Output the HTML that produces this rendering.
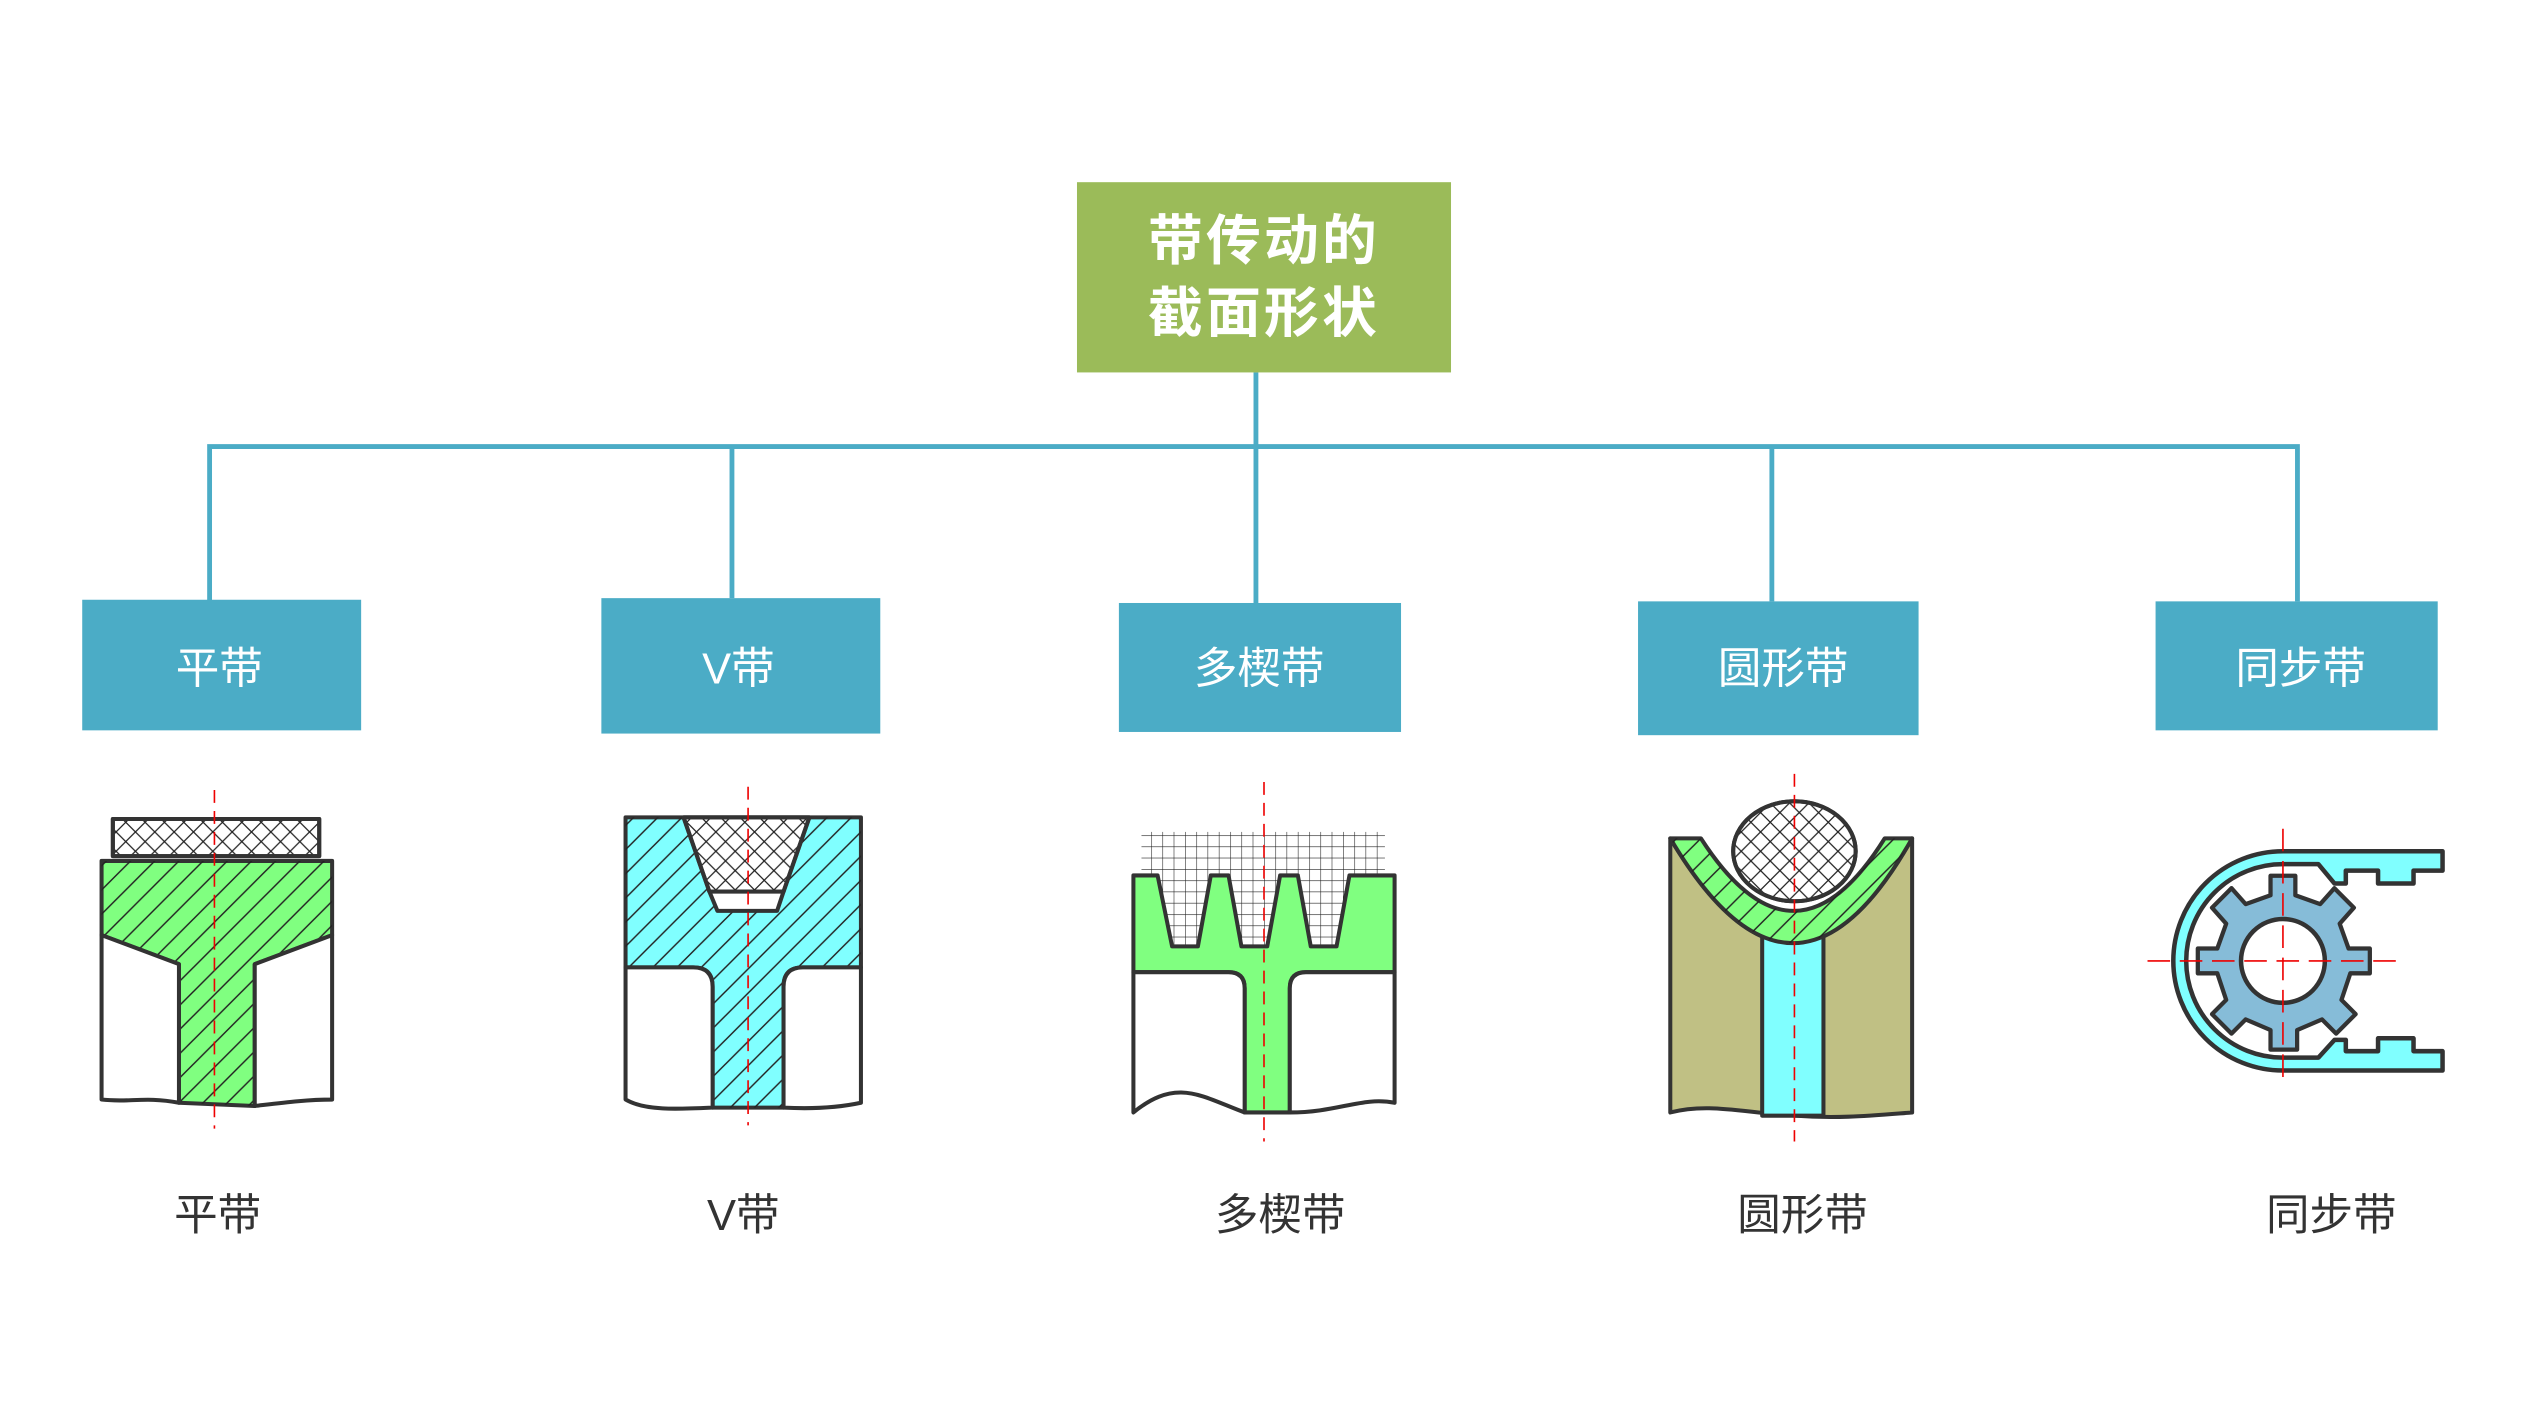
<!DOCTYPE html>
<html><head><meta charset="utf-8"><style>
html,body{margin:0;padding:0;background:#fff;}
svg{display:block;}
text{font-family:"Liberation Sans","Noto Sans CJK SC",sans-serif;}
</style></head><body>
<svg width="2528" height="1422" viewBox="0 0 1568 882" preserveAspectRatio="none" xmlns="http://www.w3.org/2000/svg">
<defs>
<pattern id="diag" width="15" height="15" patternUnits="userSpaceOnUse"><path d="M-3,18 L18,-3 M-3,3 L3,-3 M12,18 L18,12" stroke="#222" stroke-width="0.9"/></pattern>
<pattern id="cross" width="12" height="12" patternUnits="userSpaceOnUse"><path d="M0,0 L12,12 M12,0 L0,12" stroke="#222" stroke-width="0.8"/></pattern>
<pattern id="grid" width="7" height="7" patternUnits="userSpaceOnUse"><path d="M0,0 H7 M0,0 V7" stroke="#222" stroke-width="0.7" fill="none"/></pattern>
</defs>
<g stroke="#4bacc6" stroke-width="3" fill="none">
<path d="M779,231 V374"/>
<path d="M130,373 V277 H1425 V373"/>
<path d="M454,277 V371"/>
<path d="M1099,277 V373"/>
</g>
<rect x="668" y="113" width="232" height="118" fill="#9bbb59"/>
<text x="784" y="161" font-size="34" font-weight="bold" fill="#fff" text-anchor="middle" letter-spacing="2">带传动的</text>
<text x="784" y="206" font-size="34" font-weight="bold" fill="#fff" text-anchor="middle" letter-spacing="2">截面形状</text>
<g fill="#4bacc6">
<rect x="51" y="372" width="173" height="81"/>
<rect x="373" y="371" width="173" height="84"/>
<rect x="694" y="374" width="175" height="80"/>
<rect x="1016" y="373" width="174" height="83"/>
<rect x="1337" y="373" width="175" height="80"/>
</g>
<g font-size="27" fill="#fff" text-anchor="middle">
<text x="136" y="424">平带</text>
<text x="458" y="424">V带</text>
<text x="781" y="424">多楔带</text>
<text x="1106" y="424">圆形带</text>
<text x="1427" y="424">同步带</text>
</g>
<g font-size="27" fill="#333" text-anchor="middle">
<text x="135" y="763">平带</text>
<text x="461" y="763">V带</text>
<text x="794" y="763">多楔带</text>
<text x="1118" y="763">圆形带</text>
<text x="1446" y="763">同步带</text>
</g>

<g stroke="#333" stroke-width="2.5" stroke-linejoin="round">
<rect x="70" y="508" width="128" height="23" fill="#fff"/>
<rect x="70" y="508" width="128" height="23" fill="url(#cross)"/>
<path d="M63,534 H206 V580 L158,598 V686 L111,684 V598 L63,580 Z" fill="#80ff80"/>
<path d="M63,534 H206 V580 L158,598 V686 L111,684 V598 L63,580 Z" fill="url(#diag)" stroke="none"/>
<path d="M63,580 L111,598 V684 C90,680 80,684 63,682 Z" fill="#fff"/>
<path d="M206,580 L158,598 V686 C175,684 190,682 206,682 Z" fill="#fff"/>
</g>
<path d="M133,490 V700" stroke="#e00" stroke-width="1" stroke-dasharray="8,5"/>

<g stroke="#333" stroke-width="2.5" stroke-linejoin="round">
<path d="M388,507 H534 V600 H498 Q486,600 486,612 V687 H442 V612 Q442,600 430,600 H388 Z" fill="#80ffff"/>
<path d="M388,507 H534 V600 H498 Q486,600 486,612 V687 H442 V612 Q442,600 430,600 H388 Z" fill="url(#diag)" stroke="none"/>
<path d="M388,600 H430 Q442,600 442,612 V687 C420,688 400,689 388,682 Z" fill="#fff"/>
<path d="M534,600 H498 Q486,600 486,612 V687 C505,688 520,687 534,684 Z" fill="#fff"/>
<path d="M424,507 H502 L486,553 H440 Z" fill="#fff"/>
<path d="M424,507 H502 L486,553 H440 Z" fill="url(#cross)"/>
<path d="M440,553 H486 L482,565 H445 Z" fill="#fff"/>
</g>
<path d="M464,488 V698" stroke="#e00" stroke-width="1" stroke-dasharray="8,5"/>

<rect x="708" y="516" width="151" height="72" fill="url(#grid)"/>
<g stroke="#333" stroke-width="2.5" stroke-linejoin="round">
<path d="M703,543 H718 L727,587 H743 L751,543 H762 L770,587 H786 L794,543 H805 L813,587 H829 L837,543 H865 V603 H810 Q800,603 800,613 V690 H772 V613 Q772,603 762,603 H703 Z" fill="#80ff80"/>
<path d="M703,603 H762 Q772,603 772,613 V690 C745,680 730,668 703,690 Z" fill="#fff"/>
<path d="M865,603 H810 Q800,603 800,613 V690 C830,690 845,680 865,684 Z" fill="#fff"/>
</g>
<path d="M784,485 V708" stroke="#e00" stroke-width="1" stroke-dasharray="8,5"/>

<g stroke="#333" stroke-width="2.5" stroke-linejoin="round">
<path d="M1036,520 Q1113,650 1186,520 V690 C1160,692 1140,694 1113,692 C1080,690 1060,684 1036,690 Z" fill="#c0c084"/>
<rect x="1093" y="578" width="38" height="114" fill="#80ffff"/>
<path d="M1036,520 H1055 Q1113,610 1169,520 H1186 Q1113,650 1036,520 Z" fill="#80ff80"/>
<path d="M1036,520 H1055 Q1113,610 1169,520 H1186 Q1113,650 1036,520 Z" fill="url(#diag)" stroke="none"/>
<ellipse cx="1113" cy="528" rx="38" ry="31" fill="#fff"/>
<ellipse cx="1113" cy="528" rx="38" ry="31" fill="url(#cross)"/>
</g>
<path d="M1113,480 V708" stroke="#e00" stroke-width="1" stroke-dasharray="8,5"/>

<g transform="translate(7,2)">
<g stroke="#333" stroke-width="2.8" stroke-linejoin="round">
<path d="M1409,526 H1508 V538 H1490 V546 H1468 V538 H1448 V546 H1441 L1431,534 H1409 A58,58 0 0 0 1409,654 H1431 L1441,643 H1448 V650 H1468 V642 H1490 V650 H1508 V662 H1409 A68,68 0 0 1 1409,526 Z" fill="#80ffff"/>
<g transform="translate(1409,594) scale(1.1) translate(-1409,-594)">
<path d="M1402,536 H1416 V547 L1430,552 L1438,543 L1449,554 L1441,563 L1446,577 H1458 V591 H1447 L1442,606 L1450,614 L1439,625 L1431,617 L1417,623 V634 H1402 V623 L1388,617 L1380,625 L1369,614 L1377,606 L1372,591 H1361 V577 H1372 L1377,563 L1369,554 L1380,543 L1388,552 L1402,547 Z" transform="translate(0,10)" fill="#86bcd8" stroke-width="2.4"/>
</g>
<circle cx="1409" cy="594" r="26" fill="#fff"/>
</g>
<g stroke="#e00" stroke-width="1" stroke-dasharray="14,6">
<path d="M1325,594 H1483"/>
<path d="M1409,512 V670"/>
</g>
</g>
</svg>
</body></html>
